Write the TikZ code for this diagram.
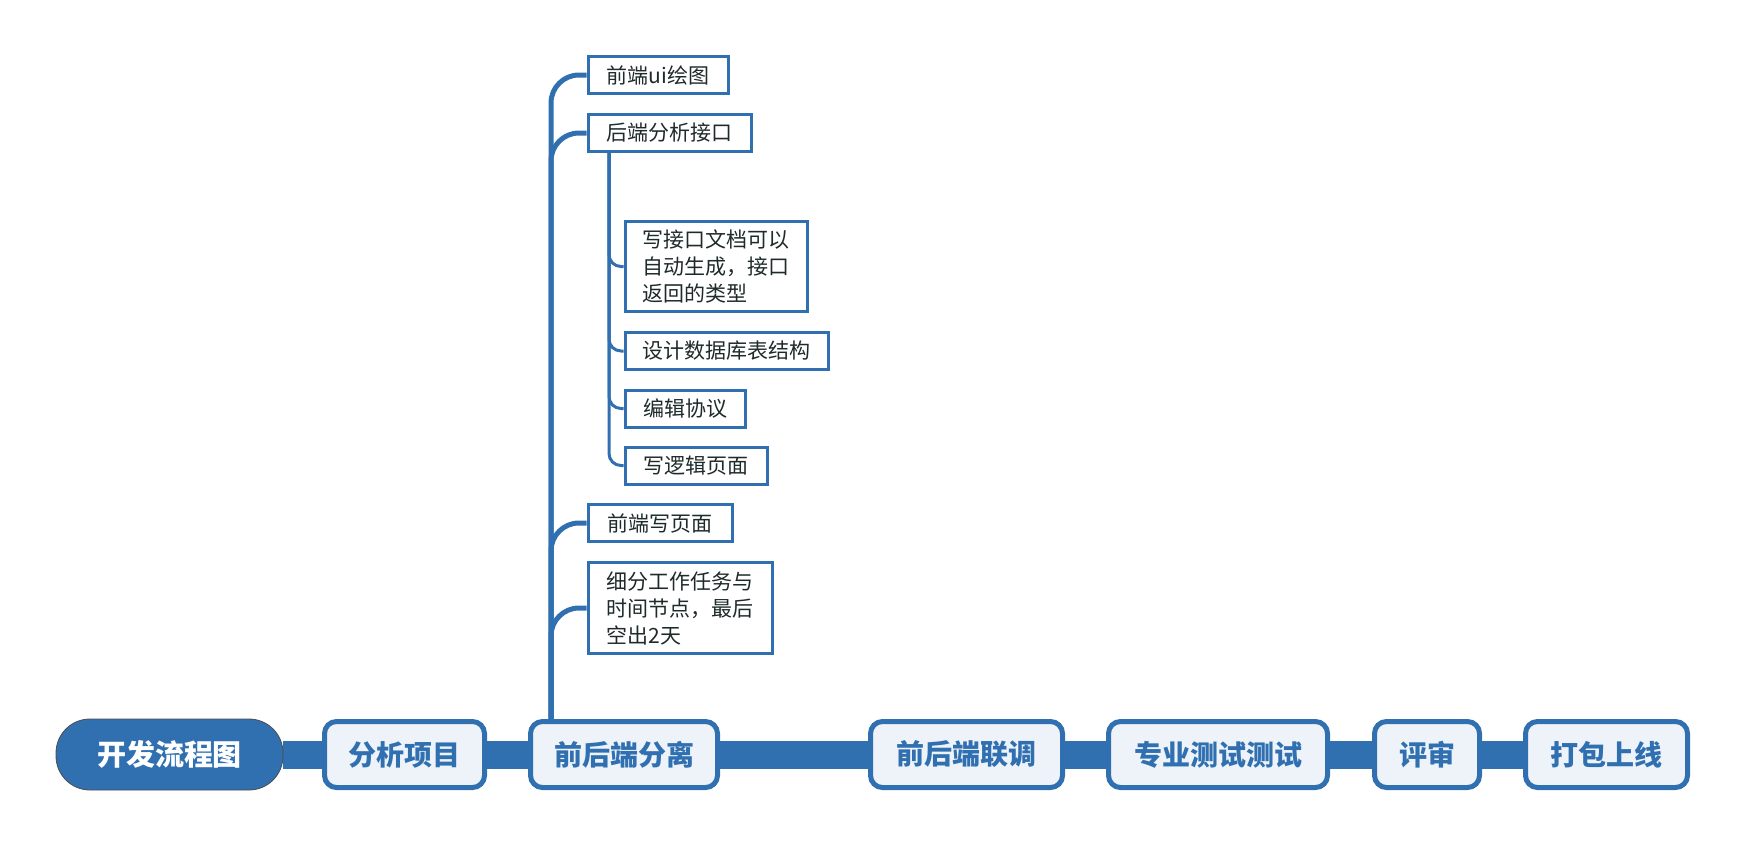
\documentclass[tikz,border=0pt]{standalone}
\usepackage{fontspec}
\newfontfamily\cjk{Noto Sans CJK SC}
\usetikzlibrary{backgrounds,calc}
\definecolor{mblue}{HTML}{3070B0}
\definecolor{mfill}{HTML}{EEF3FA}
\definecolor{ctext}{HTML}{1F2A2A}
\begin{document}
\begin{tikzpicture}[x=0.5pt,y=-0.5pt,
 mainbox/.style={draw=mblue, line width=2.5pt, fill=mfill, rounded corners=6pt, text=mblue,
   font=\cjk\bfseries\fontsize{14}{16}\selectfont, minimum height=33pt, inner sep=0pt},
 rootbox/.style={draw=black!70, line width=0.4pt, fill=mblue, rounded corners=17pt, text=white,
   font=\cjk\bfseries\fontsize{14.5}{16}\selectfont, minimum height=35.5pt, minimum width=113.5pt, inner sep=0pt},
 childbox/.style={draw=mblue, line width=1.5pt, fill=white, text=ctext,
   font=\cjk\fontsize{10.5}{13.5}\selectfont, minimum height=18.5pt, inner sep=0pt, anchor=west, align=left},
 bar/.style={mblue, line width=14pt},
 trunk/.style={mblue, line width=2.5pt, rounded corners=14pt},
 subtrunk/.style={mblue, line width=1.5pt, rounded corners=6pt}]
\useasboundingbox (0,0) rectangle (1751,847);

% main line
\node[rootbox] (root) at (169.5,754.5) {开发流程图};
\node[mainbox, minimum width=80pt] (n1) at (404.5,754.5) {分析项目};
\node[mainbox, minimum width=93.5pt] (sep) at (624,754.5) {前后端分离};
\node[mainbox, minimum width=96pt] (n3) at (966.5,754.5) {前后端联调};
\node[mainbox, minimum width=109.5pt] (n4) at (1218,754.5) {专业测试测试};
\node[mainbox, minimum width=52.5pt] (n5) at (1427,754.5) {评审};
\node[mainbox, minimum width=81pt] (n6) at (1606.5,754.5) {打包上线};

% children
\node[childbox, minimum width=70pt] (c1) at (586.5,75) {前端ui绘图};
\node[childbox, minimum width=81.5pt] (c2) at (586.5,133) {后端分析接口};
\node[childbox, minimum width=91pt, minimum height=45pt] (s1) at (623.5,266.5) {写接口文档可以\\自动生成，接口\\返回的类型};
\node[childbox, minimum width=101.5pt] (s2) at (623.5,351) {设计数据库表结构};
\node[childbox, minimum width=60pt] (s3) at (623.5,408.5) {编辑协议};
\node[childbox, minimum width=71pt] (s4) at (623.5,465.5) {写逻辑页面};
\node[childbox, minimum width=72pt] (c3) at (586.5,523) {前端写页面};
\node[childbox, minimum width=92pt, minimum height=45.5pt] (c4) at (586.5,608) {细分工作任务与\\时间节点，最后\\空出2天};

\begin{scope}[on background layer]
\draw[bar] (root.east) -- (n1.west);
\draw[bar] (n1.east) -- (sep.west);
\draw[bar] (sep.east) -- (n3.west);
\draw[bar] (n3.east) -- (n4.west);
\draw[bar] (n4.east) -- (n5.west);
\draw[bar] (n5.east) -- (n6.west);
\coordinate (tb) at ($(sep.north west)+(23,0)$);
\draw[trunk] (tb) |- (c1.west);
\draw[trunk] (tb) |- (c2.west);
\draw[trunk] (tb) |- (c3.west);
\draw[trunk] (tb) |- (c4.west);
\coordinate (sb) at ($(c2.south west)+(22.5,0)$);
\draw[subtrunk] (sb) |- (s1.west);
\draw[subtrunk] (sb) |- (s2.west);
\draw[subtrunk] (sb) |- (s3.west);
\draw[subtrunk] (sb) |- (s4.west);
\end{scope}
\end{tikzpicture}
\end{document}
